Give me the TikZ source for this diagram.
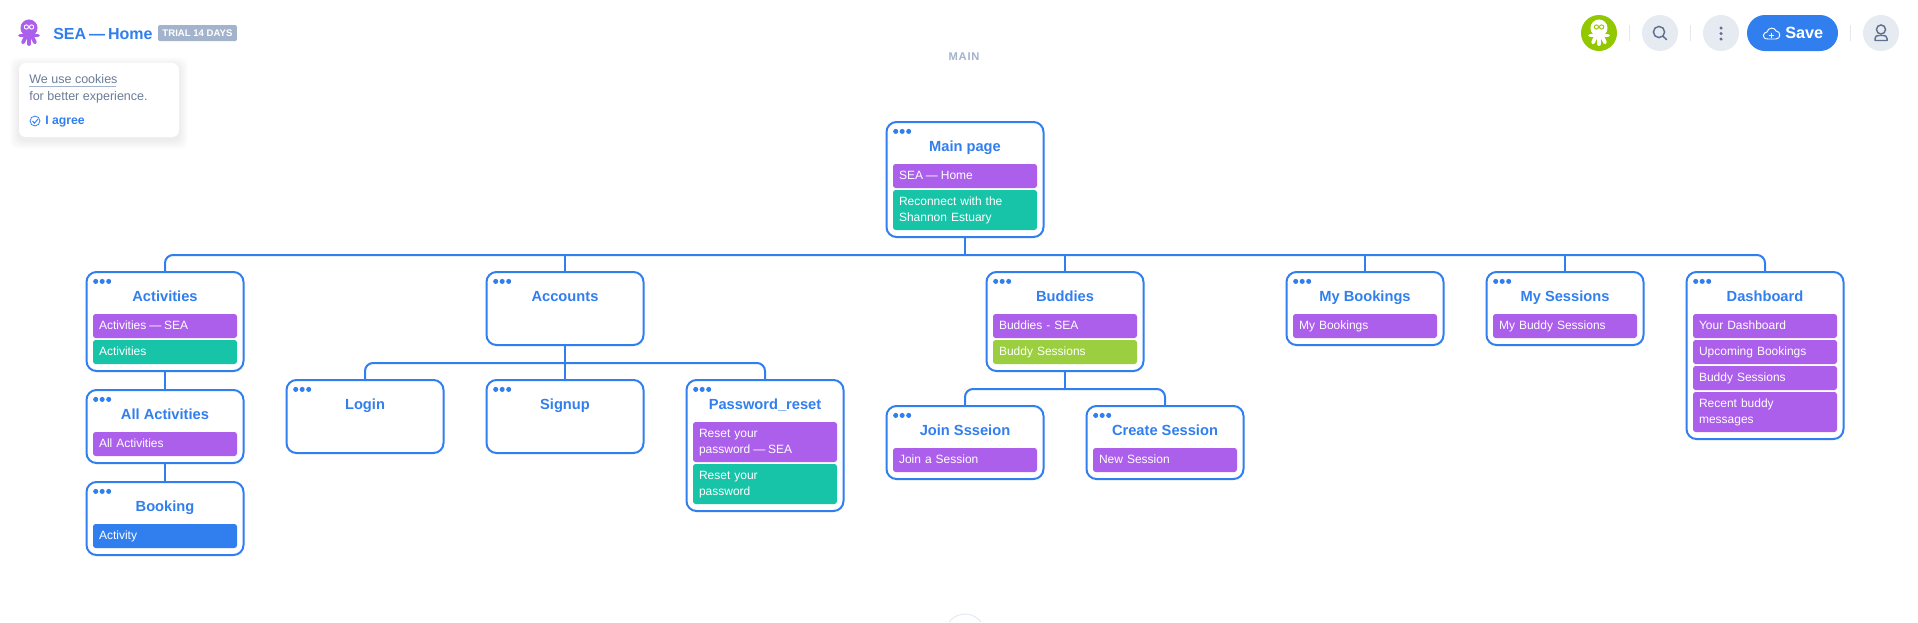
\documentclass[tikz,border=0pt]{standalone}
\usepackage{fontspec}
\setmainfont{Liberation Sans}
\definecolor{linkblue}{HTML}{317FEE}
\definecolor{rowpurple}{HTML}{AB5FEB}
\definecolor{rowteal}{HTML}{17C4A8}
\definecolor{rowgreen}{HTML}{9BCF3F}
\definecolor{limegreen}{HTML}{92C800}
\definecolor{badgegrey}{HTML}{A3B3CC}
\definecolor{textgrey}{HTML}{6C7C96}
\definecolor{iconfill}{HTML}{E6EBF2}
\definecolor{icongrey}{HTML}{5F7090}
\definecolor{sepgrey}{HTML}{E4E9F0}
\newcommand{\seadash}{\kern-.09em\ —\kern-.09em\ }
\newcommand{\seaoctopus}[4]{
\fill [#3] (#1,#2-5) circle [radius=6.4pt];
\fill [#3] (#1,#2+2) circle [radius=4pt];
\draw [#3, line width=2.8pt, line cap=round] (#1-9,#2+2.5) -- (#1+9,#2+2.5);
\draw [#3, line width=2.8pt, line cap=round] (#1-3,#2+3) -- (#1-6,#2+9.5);
\draw [#3, line width=2.8pt, line cap=round] (#1,#2+3) -- (#1,#2+11);
\draw [#3, line width=2.8pt, line cap=round] (#1+3,#2+3) -- (#1+6,#2+9.5);
\draw [#4, line width=0.7pt] (#1-2.6,#2-6) circle [radius=1.6pt];
\draw [#4, line width=0.7pt] (#1+2.6,#2-6) circle [radius=1.6pt];
}
\tikzset{
pagebox/.style={draw=linkblue, line width=1.5pt, fill=white, rounded corners=7.5pt, minimum width=117.75pt, anchor=north, inner sep=0pt, outer sep=0pt},
pagetitle/.style={text=linkblue, font=\fontsize{11}{13}\selectfont\bfseries, inner sep=0pt, text height=8pt, text depth=2pt},
rowbar/.style={rounded corners=2pt, text=white, font=\fontsize{9}{12}\selectfont, anchor=north, minimum height=18pt, text width=99pt, inner xsep=4.5pt, inner ysep=0pt, outer sep=0pt, align=left, execute at begin node={\rule{0pt}{8.9pt}}, execute at end node={\rule[-3.1pt]{0pt}{3.1pt}}},
purplerow/.style={rowbar, fill=rowpurple},
tealrow/.style={rowbar, fill=rowteal},
greenrow/.style={rowbar, fill=rowgreen},
bluerow/.style={rowbar, fill=linkblue},
link/.style={draw=linkblue, line width=1.5pt},
roundbutton/.style={circle, fill=iconfill, minimum size=27pt, inner sep=0pt},
sepline/.style={draw=sepgrey, line width=0.8pt},
iconline/.style={draw=icongrey, line width=1.1pt, line cap=round},
cookietext/.style={text=textgrey, font=\fontsize{9.4}{11}\selectfont, anchor=west, inner sep=0pt}
}
\begin{document}
\begin{tikzpicture}[x=0.75pt,y=-0.75pt]
\path [use as bounding box, fill=white] (0,0) rectangle (1918,622);

% header, left
\seaoctopus{29}{33}{rowpurple}{white}
\node [text=linkblue, font=\fontsize{12}{15}\selectfont\bfseries, anchor=west, inner sep=0pt] (homelabel) at (53,33.5) {SEA\seadash Home};
\node [fill=badgegrey, text=white, rounded corners=1pt, font=\fontsize{7.2}{9}\selectfont\bfseries, minimum width=59pt, minimum height=12pt, inner sep=0pt] (trialbadge) at (197.5,33) {TRIAL 14 DAYS};
\node [text=badgegrey, font=\fontsize{8.4}{10}\selectfont\bfseries\addfontfeature{LetterSpace=7}] (mainlabel) at (964,56.5) {MAIN};

% cookie card
\foreach \s in {9,8,7,6,5,4,3,2,1} \fill [black, opacity=0.007, rounded corners=6pt] (19-\s,63-\s+3) rectangle (179+\s,137+\s+3);
\fill [white, rounded corners=5pt] (19,63) rectangle (179,137);
\node [cookietext] (cookiea) at (29,79) {We use cookies};
\draw [badgegrey, line width=0.6pt] (29,86.5) -- (116,86.5);
\node [cookietext] (cookieb) at (29,97.5) {for better experience.};
\draw [linkblue, line width=0.6pt] (35,121) circle [radius=3.7pt];
\draw [linkblue, line width=0.7pt] (32.5,121) -- (34.5,123.2) -- (38,119);
\node [text=linkblue, font=\fontsize{9.2}{11}\selectfont\bfseries, anchor=west, inner sep=0pt] (agreelabel) at (45,121.5) {I agree};

% header, right
\node [circle, fill=limegreen, minimum size=27pt, inner sep=0pt] (userbadge) at (1599,33) {};
\seaoctopus{1599}{33}{white}{limegreen}
\draw [sepline] (1629.5,25) -- (1629.5,41);
\node [roundbutton] (searchbutton) at (1660,33) {};
\draw [iconline] (1659,32) circle [radius=4.2pt];
\draw [iconline] (1663.2,36.5) -- (1666.5,39.5);
\draw [sepline] (1690.5,25) -- (1690.5,41);
\node [roundbutton] (menubutton) at (1721,33) {};
\fill [icongrey] (1721,28) circle [radius=1.3pt];
\fill [icongrey] (1721,33.5) circle [radius=1.3pt];
\fill [icongrey] (1721,39) circle [radius=1.3pt];
\node [fill=linkblue, rounded corners=13.5pt, minimum width=68.25pt, minimum height=27pt, inner sep=0pt] (savebutton) at (1792.5,33) {};
\node [text=white, font=\fontsize{12.2}{15}\selectfont\bfseries, anchor=west, inner sep=0pt] (savelabel) at (1785,32.5) {Save};
\draw [white, line width=0.7pt, line join=round] (1768,39) .. controls (1761,39) and (1763,32) .. (1767,32) .. controls (1768,27) and (1775,27) .. (1776,31) .. controls (1781,31) and (1781,39) .. (1776,39) -- cycle;
\draw [white, line width=0.7pt] (1771.5,32.5) -- (1771.5,37.5) (1769,35) -- (1774,35);
\draw [sepline] (1850.5,25) -- (1850.5,41);
\node [roundbutton] (userbutton) at (1881,33) {};
\draw [iconline] (1881,29.5) circle [radius=3.4pt];
\draw [iconline, line join=round] (1875,40.5) -- (1875,38.5) .. controls (1875,36) and (1877,35.5) .. (1879,35.5) -- (1883,35.5) .. controls (1885,35.5) and (1887,36) .. (1887,38.5) -- (1887,40.5) -- cycle;

% pages
\node [pagebox, minimum height=86.25pt] (mainpage) at (965,122) {};
\node [pagebox, minimum height=74.25pt] (activities) at (165,272) {};
\node [pagebox, minimum height=54.75pt] (allactivities) at (165,390) {};
\node [pagebox, minimum height=54.75pt] (booking) at (165,482) {};
\node [pagebox, minimum height=54.75pt] (accounts) at (565,272) {};
\node [pagebox, minimum height=54.75pt] (login) at (365,380) {};
\node [pagebox, minimum height=54.75pt] (signup) at (565,380) {};
\node [pagebox, minimum height=98.25pt] (passwordreset) at (765,380) {};
\node [pagebox, minimum height=74.25pt] (buddies) at (1065,272) {};
\node [pagebox, minimum height=54.75pt] (joinsession) at (965,406) {};
\node [pagebox, minimum height=54.75pt] (createsession) at (1165,406) {};
\node [pagebox, minimum height=54.75pt] (mybookings) at (1365,272) {};
\node [pagebox, minimum height=54.75pt] (mysessions) at (1565,272) {};
\node [pagebox, minimum height=125.25pt] (dashboard) at (1765,272) {};

% links
\coordinate (mainbus) at (965,255);
\coordinate (accountsbus) at (565,363);
\coordinate (buddiesbus) at (1065,389);
\draw [link, rounded corners=6pt] (activities.north) |- (mainbus) -| (dashboard.north);
\draw [link] (mainpage.south) -- (mainbus);
\draw [link] (accounts.north) -- (accounts.north |- mainbus);
\draw [link] (buddies.north) -- (buddies.north |- mainbus);
\draw [link] (mybookings.north) -- (mybookings.north |- mainbus);
\draw [link] (mysessions.north) -- (mysessions.north |- mainbus);
\draw [link] (activities.south) -- (allactivities.north);
\draw [link] (allactivities.south) -- (booking.north);
\draw [link] (accounts.south) -- (signup.north);
\draw [link, rounded corners=6pt] (login.north) |- (accountsbus) -| (passwordreset.north);
\draw [link] (buddies.south) -- (buddiesbus);
\draw [link, rounded corners=6pt] (joinsession.north) |- (buddiesbus) -| (createsession.north);

% window dots
\foreach \bx/\by in {885.7/121.7, 85.7/271.7, 85.7/389.7, 85.7/481.7, 485.7/271.7, 285.7/379.7, 485.7/379.7, 685.7/379.7, 985.7/271.7, 885.7/405.7, 1085.7/405.7, 1285.7/271.7, 1485.7/271.7, 1685.7/271.7}
\foreach \d in {10,16.5,23} \fill [linkblue] (\bx+\d,\by+9.7) circle [radius=1.9pt];

% titles
\node [pagetitle] (mainpagetitle) at (965,147.7) {Main page};
\node [pagetitle] (activitiestitle) at (165,297.7) {Activities};
\node [pagetitle] (allactivitiestitle) at (165,415.7) {All Activities};
\node [pagetitle] (bookingtitle) at (165,507.7) {Booking};
\node [pagetitle] (accountstitle) at (565,297.7) {Accounts};
\node [pagetitle] (logintitle) at (365,405.7) {Login};
\node [pagetitle] (signuptitle) at (565,405.7) {Signup};
\node [pagetitle] (passwordresettitle) at (765,405.7) {Password\_reset};
\node [pagetitle] (buddiestitle) at (1065,297.7) {Buddies};
\node [pagetitle] (joinsessiontitle) at (965,431.7) {Join Ssseion};
\node [pagetitle] (createsessiontitle) at (1165,431.7) {Create Session};
\node [pagetitle] (mybookingstitle) at (1365,297.7) {My Bookings};
\node [pagetitle] (mysessionstitle) at (1565,297.7) {My Sessions};
\node [pagetitle] (dashboardtitle) at (1765,297.7) {Dashboard};

% rows
\node [purplerow] (mainrowa) at (965,164) {SEA\seadash Home};
\node [tealrow, minimum height=30pt] (mainrowb) at (965,190) {Reconnect with the\\Shannon Estuary};
\node [purplerow] (activitiesrowa) at (165,314) {Activities\seadash SEA};
\node [tealrow] (activitiesrowb) at (165,340) {Activities};
\node [purplerow] (allactivitiesrow) at (165,432) {All Activities};
\node [bluerow] (bookingrow) at (165,524) {Activity};
\node [purplerow, minimum height=30pt] (passwordrowa) at (765,422) {Reset your\\password\seadash SEA};
\node [tealrow, minimum height=30pt] (passwordrowb) at (765,464) {Reset your\\password};
\node [purplerow] (buddiesrowa) at (1065,314) {Buddies - SEA};
\node [greenrow] (buddiesrowb) at (1065,340) {Buddy Sessions};
\node [purplerow] (joinsessionrow) at (965,448) {Join a Session};
\node [purplerow] (createsessionrow) at (1165,448) {New Session};
\node [purplerow] (mybookingsrow) at (1365,314) {My Bookings};
\node [purplerow] (mysessionsrow) at (1565,314) {My Buddy Sessions};
\node [purplerow] (dashboardrowa) at (1765,314) {Your Dashboard};
\node [purplerow] (dashboardrowb) at (1765,340) {Upcoming Bookings};
\node [purplerow] (dashboardrowc) at (1765,366) {Buddy Sessions};
\node [purplerow, minimum height=30pt] (dashboardrowd) at (1765,392) {Recent buddy\\messages};

% bottom edge
\draw [iconfill, line width=0.8pt] (949,622) arc [start angle=143, end angle=37, radius=15pt];
\end{tikzpicture}
\end{document}
